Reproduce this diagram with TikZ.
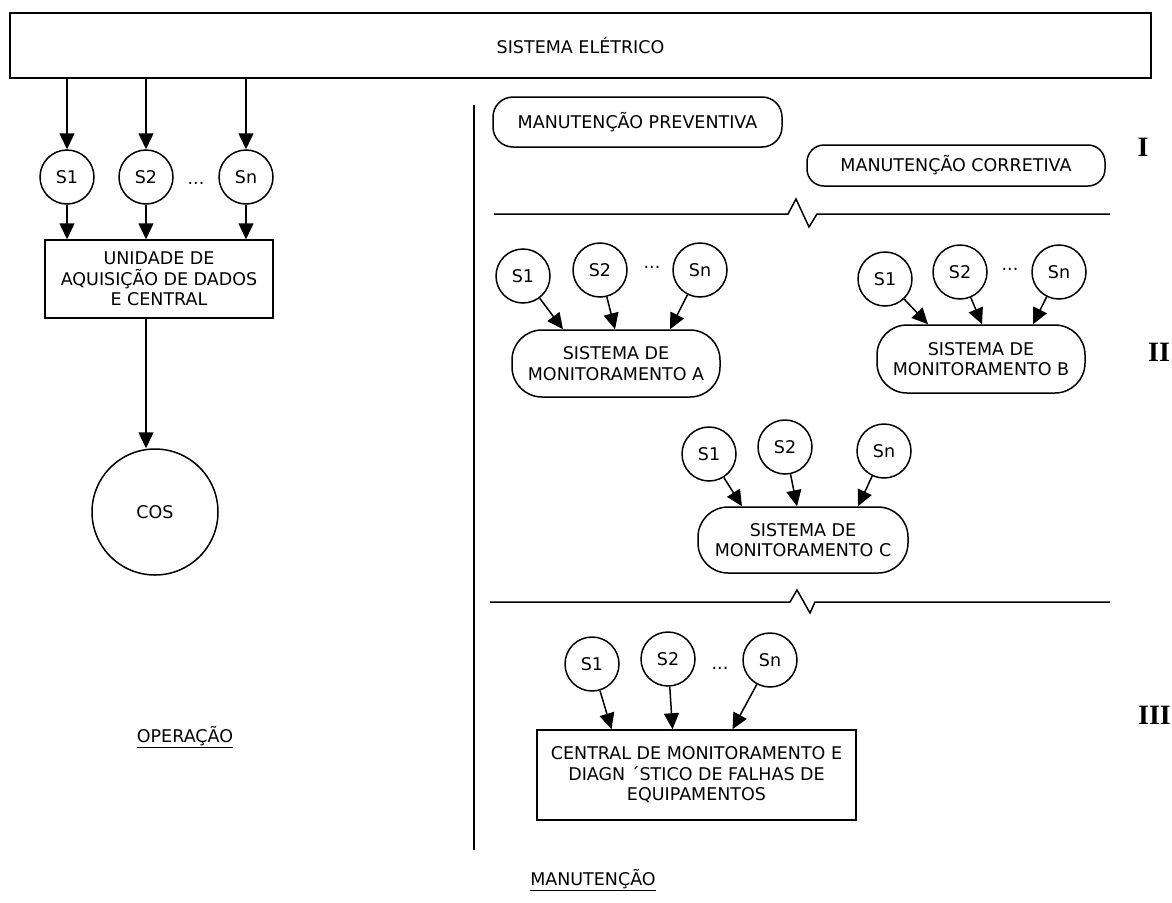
\documentclass[tikz,border=0pt]{standalone}
\usepackage{fontspec}
\setmainfont{DejaVu Sans}
\newfontfamily\romanfont{Liberation Serif}
\usetikzlibrary{arrows.meta}
\begin{document}
\begin{tikzpicture}[x=1pt,y=-1pt,
  every node/.style={font=\fontsize{17.5}{20.5}\selectfont},
  ln/.style={line width=1.5pt},
  arr/.style={ln,-{Triangle[length=16pt,width=15pt]}},
  sens/.style={draw,ln,circle,minimum size=54pt,inner sep=0pt},
  box/.style={draw,ln,rectangle,align=center,inner sep=0pt},
  pill/.style={draw,ln,rectangle,rounded corners=#1,align=center,inner sep=0pt},
  pill/.default=28pt,
  roman/.style={font=\romanfont\bfseries\fontsize{28}{28}\selectfont,inner sep=0pt},
]
\useasboundingbox (0,0) rectangle (1172,902);

% ---- electrical system bar
\node[box,minimum width=1141pt,minimum height=65pt] (sys) at (580.5,45.5) {SISTEMA ELÉTRICO};

% ---- operation side
\node[sens] (s1) at (67,177) {S1};
\node[sens] (s2) at (146,177) {S2};
\node[sens] (sn) at (246,177) {Sn};
\node (sdots) at (196,183) {...};
\node[box,minimum width=228pt,minimum height=78pt] (uad) at (159,279)
  {UNIDADE DE\\AQUISIÇÃO DE DADOS\\E CENTRAL};
\node[draw,ln,circle,minimum size=126pt,inner sep=0pt] (cos) at (155,512) {COS};
\node (op) at (185,737) {\underline{OPERAÇÃO}};

\foreach \s in {s1,s2,sn}{
  \draw[arr] (\s |- sys.south) -- (\s.north);
  \draw[arr] (\s.south) -- (\s |- uad.north);
}
\draw[arr] (s2 |- uad.south) -- (s2 |- cos.north);

% ---- divider between operation and maintenance
\coordinate (vt) at (474,105);
\coordinate (vb) at (474,850);
\draw[ln] (vt) -- (vb);

% ---- level I
\node[pill=20pt,minimum width=289pt,minimum height=50pt] (prev) at (637.5,122) {MANUTENÇÃO PREVENTIVA};
\node[pill=17pt,minimum width=298pt,minimum height=41pt] (corr) at (956,165.5) {MANUTENÇÃO CORRETIVA};
\node[roman] (lvI) at (1143,147) {I};

% ---- break line I / II
\coordinate (z1a) at (494,214);
\coordinate (z1b) at (788,214);
\coordinate (z1c) at (796,199);
\coordinate (z1d) at (809,227);
\coordinate (z1e) at (817,214);
\coordinate (z1f) at (1110,214);
\draw[ln] (z1a) -- (z1b) -- (z1c) -- (z1d) -- (z1e) -- (z1f);

% ---- level II: system A
\node[sens] (a1) at (523,276) {S1};
\node[sens] (a2) at (600,270) {S2};
\node[sens] (an) at (700,270) {Sn};
\node (adots) at (652,270) {···};
\node[pill=30pt,minimum width=208pt,minimum height=67pt] (sa) at (616,363.5)
  {SISTEMA DE\\MONITORAMENTO A};
\draw[arr] (a1) -- ([xshift=-53pt]sa.north);
\draw[arr] (a2) -- ([xshift=-1pt]sa.north);
\draw[arr] (an) -- ([xshift=54pt]sa.north);

% ---- level II: system B
\node[sens] (b1) at (885,279) {S1};
\node[sens] (b2) at (960,272) {S2};
\node[sens] (bn) at (1059,272) {Sn};
\node (bdots) at (1010,272) {···};
\node[pill=30pt,minimum width=208pt,minimum height=68pt] (sb) at (981,359)
  {SISTEMA DE\\MONITORAMENTO B};
\draw[arr] (b1) -- ([xshift=-53pt]sb.north);
\draw[arr] (b2) -- ([xshift=1pt]sb.north);
\draw[arr] (bn) -- ([xshift=52pt]sb.north);
\node[roman,anchor=west] (lvII) at (1148,352) {II};

% ---- level II: system C
\node[sens] (c1) at (709,454) {S1};
\node[sens] (c2) at (785,447) {S2};
\node[sens] (cn) at (884,451) {Sn};
\node[pill=30pt,minimum width=210pt,minimum height=66pt] (sc) at (803,540)
  {SISTEMA DE\\MONITORAMENTO C};
\draw[arr] (c1) -- ([xshift=-61pt]sc.north);
\draw[arr] (c2) -- ([xshift=-6pt]sc.north);
\draw[arr] (cn) -- ([xshift=55pt]sc.north);

% ---- break line II / III
\coordinate (z2a) at (490,602);
\coordinate (z2b) at (790,602);
\coordinate (z2c) at (797,590);
\coordinate (z2d) at (810,613);
\coordinate (z2e) at (815,602);
\coordinate (z2f) at (1110,602);
\draw[ln] (z2a) -- (z2b) -- (z2c) -- (z2d) -- (z2e) -- (z2f);

% ---- level III
\node[sens] (d1) at (592,664) {S1};
\node[sens] (d2) at (668,659) {S2};
\node[sens] (dn) at (770,660) {Sn};
\node (ddots) at (720,668) {...};
\node[box,minimum width=319pt,minimum height=90pt] (cen) at (696.5,775)
  {CENTRAL DE MONITORAMENTO E\\DIAGN ´STICO DE FALHAS DE\\EQUIPAMENTOS};
\draw[arr] (d1) -- ([xshift=-85pt]cen.north);
\draw[arr] (d2) -- ([xshift=-24pt]cen.north);
\draw[arr] (dn) -- ([xshift=36pt]cen.north);
\node[roman,anchor=east] (lvIII) at (1171,715) {III};

\node (man) at (593,880) {\underline{MANUTENÇÃO}};
\end{tikzpicture}
\end{document}
